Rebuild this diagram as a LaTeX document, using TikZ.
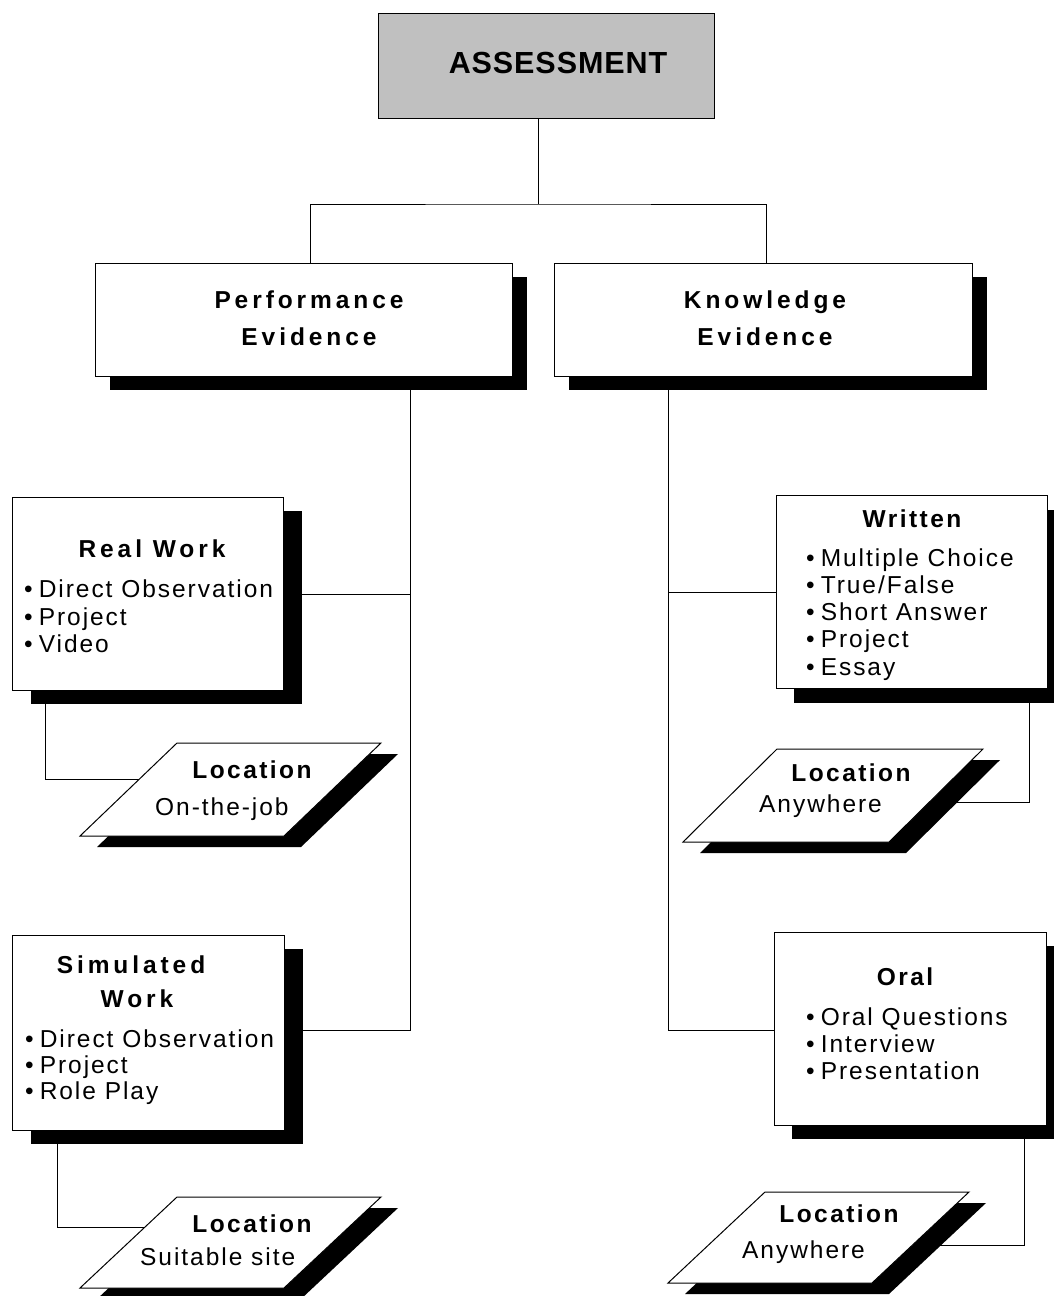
\documentclass[tikz,border=0pt]{standalone}
\usepackage{fontspec}
\setmainfont{Liberation Sans}[LetterSpace=8]
\newfontfamily\hfont{Liberation Sans}[LetterSpace=16]
\newfontfamily\tfont{Liberation Sans}[LetterSpace=10]
\newfontfamily\afont{Liberation Sans}[LetterSpace=3]
\usetikzlibrary{shadows,backgrounds,calc}
\definecolor{boxgray}{HTML}{C0C0C0}
\newcommand{\locbox}[5]{%
  \fill[black,shift={(17,11)}] (#1,#2) -- ++(#3,0) -- ++(-#4,#5) -- ++(-#3,0) -- cycle;
  \filldraw[fill=white,draw=black] (#1,#2) -- ++(#3,0) -- ++(-#4,#5) -- ++(-#3,0) -- cycle;}
\tikzset{
  box/.style={draw=black, fill=white, anchor=north west, inner sep=0pt},
  sh/.style 2 args={drop shadow={shadow xshift=#1pt, shadow yshift=-#2pt, opacity=1, fill=black}},
  conn/.style={draw=black, line width=1pt},
  hd/.style={font=\hfont\bfseries\fontsize{24.5}{28}\selectfont, anchor=base, inner sep=0pt},
  tt/.style={font=\tfont\bfseries\fontsize{24.5}{28}\selectfont, anchor=base, inner sep=0pt},
  li/.style={font=\fontsize{24.5}{28}\selectfont, anchor=base west, inner sep=0pt},
}
\newcommand{\bul}{•\hspace{6pt}}
\begin{document}
\begin{tikzpicture}[x=1pt, y=-1pt, line width=1pt]
\useasboundingbox (0,0) rectangle (1054,1296);
\clip (0,0) rectangle (1054,1296);

% boxes
\node[box, fill=boxgray, minimum width=336pt, minimum height=105pt] (as) at (378,13) {};
\node[box, sh={14}{13}, minimum width=417pt, minimum height=113pt] (pe) at (95,263) {};
\node[box, sh={14}{13}, minimum width=418pt, minimum height=113pt] (ke) at (554,263) {};
\node[box, sh={18}{13}, minimum width=271pt, minimum height=193pt] (rw) at (12,497) {};
\node[box, sh={17}{14}, minimum width=271pt, minimum height=193pt] (wr) at (776,495) {};
\node[box, sh={18}{13}, minimum width=272pt, minimum height=195pt] (sw) at (12,935) {};
\node[box, sh={17}{13}, minimum width=272pt, minimum height=193pt] (oral) at (774,932) {};

% location parallelograms
\locbox{177}{743}{204}{97}{93}
\locbox{777}{749}{206}{94}{93}
\locbox{177}{1197}{204}{97}{91}
\locbox{765}{1192}{204}{97}{91}

% junction coordinates
\coordinate (top) at (538,204);
\coordinate (pv) at (410,1030);
\coordinate (kv) at (668,1030);
\coordinate (l1in) at (139,779);
\coordinate (l2in) at (925,802);
\coordinate (l3in) at (145,1227);
\coordinate (l4in) at (910,1245);

% connectors (behind everything)
\begin{pgfonlayer}{background}
\fill[white] (0,0) rectangle (1054,1296);
\draw[conn] (as.south -| top) -- (top);
\draw[conn] ([xshift=6pt]pe.north) |- (top) -| ([xshift=3pt]ke.north);
\draw[conn] (pe.south -| pv) -- (pv) -- (sw.east |- pv);
\draw[conn] (rw.east) -- (rw.east -| pv);
\draw[conn] (ke.south -| kv) -- (kv) -- (oral.west |- kv);
\draw[conn] (wr.west) -- (wr.west -| kv);
\draw[conn] ([xshift=33pt]rw.south west) |- (l1in);
\draw[conn] ([xshift=-19pt]wr.south east) |- (l2in);
\draw[conn] ([xshift=45pt]sw.south west) |- (l3in);
\draw[conn] ([xshift=-23pt]oral.south east) |- (l4in);
\end{pgfonlayer}

% texts
\node[font=\afont\bfseries\fontsize{30.5}{36}\selectfont, anchor=base, inner sep=0pt] (t0) at (558,73) {ASSESSMENT};
\node[hd] (pe1) at (309,308) {Performance};
\node[hd] (pe2) at (309,345) {Evidence};
\node[hd] (ke1) at (765,308) {Knowledge};
\node[hd] (ke2) at (765,345) {Evidence};

\node[hd] (rwt) at (152,557) {Real Work};
\node[li] (rw1) at (24,597) {\bul Direct Observation};
\node[li] (rw2) at (24,625) {\bul Project};
\node[li] (rw3) at (24,652) {\bul Video};

\node[hd] (swt1) at (131,973) {Simulated};
\node[hd] (swt2) at (137,1007) {Work};
\node[li] (sw1) at (25,1047) {\bul Direct Observation};
\node[li] (sw2) at (25,1073) {\bul Project};
\node[li] (sw3) at (25,1099) {\bul Role Play};

\node[tt] (wrt) at (912,527) {Written};
\node[li] (wr1) at (806,566) {\bul Multiple Choice};
\node[li] (wr2) at (806,593) {\bul True/False};
\node[li] (wr3) at (806,620) {\bul Short Answer};
\node[li] (wr4) at (806,647) {\bul Project};
\node[li] (wr5) at (806,675) {\bul Essay};

\node[tt] (ort) at (905,985) {Oral};
\node[li] (or1) at (806,1025) {\bul Oral Questions};
\node[li] (or2) at (806,1052) {\bul Interview};
\node[li] (or3) at (806,1079) {\bul Presentation};

\node[tt] (l1t) at (252,778) {Location};
\node[li] (l1s) at (155,815) {On-the-job};
\node[tt] (l2t) at (851,781) {Location};
\node[li] (l2s) at (759,812) {Anywhere};
\node[tt] (l3t) at (252,1232) {Location};
\node[li] (l3s) at (140,1265) {Suitable site};
\node[tt] (l4t) at (839,1222) {Location};
\node[li] (l4s) at (742,1258) {Anywhere};
\end{tikzpicture}
\end{document}
